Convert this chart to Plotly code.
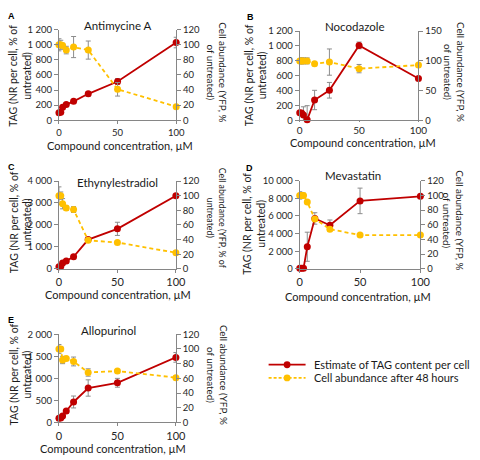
import plotly.graph_objects as go

conc = [0, 1.5625, 3.125, 6.25, 12.5, 25, 50, 100]

panels = ["Antimycine A", "Nocodazole", "Ethynylestradiol", "Mevastatin", "Allopurinol"]
letters = ["A", "B", "C", "D", "E"]

# TAG estimate (% of untreated)
tag_A = [100, 105, 172, 207, 250, 350, 513, 1030]
tag_B = [105, 100, 74, 9, 275, 406, 1008, 563]
tag_C = [100, 105, 267, 356, 548, 1333, 1822, 3333]
tag_D = [60, 60, 60, 2509, 5720, 4945, 7712, 8229]
tag_E = [96, 103, 148, 258, 465, 782, 900, 1476]

tag_err_A = [15, 10, 25, 25, 20, 30, 40, 70]
tag_err_B = [20, 20, 110, 190, 130, 105, 45, 20]
tag_err_C = [40, 40, 60, 60, 60, 60, 300, 40]
tag_err_D = [50, 50, 50, 1650, 650, 600, 1450, 100]
tag_err_E = [20, 20, 30, 40, 135, 185, 100, 110]

# Cell abundance (% of untreated)
cell_A = [100, 100, 99, 93, 97, 93, 41, 18]
cell_B = [100, 100, 100, 100, 95, 98, 87, 93]
cell_C = [100, 100, 89, 83, 81, 39, 36, 22]
cell_D = [100, 100, 100, 91, 68, 54, 46, 46]
cell_E = [100, 100, 85, 87, 83, 68, 70, 61]

cell_err_A = [8, 6, 3, 5, 14, 12, 9, 2]
cell_err_B = [5, 5, 5, 5, 3, 22, 7, 2]
cell_err_C = [12, 5, 7, 3, 4, 2, 2, 2]
cell_err_D = [5, 4, 3, 2, 2, 2, 1, 1]
cell_err_E = [6, 3, 5, 2, 6, 5, 2, 2]

left_max = [1200, 1200, 4000, 10000, 2000]
left_dtick = [200, 200, 1000, 2000, 500]
right_max = [120, 150, 120, 120, 120]
right_dtick = [20, 50, 20, 20, 20]

tags = [tag_A, tag_B, tag_C, tag_D, tag_E]
tag_errs = [tag_err_A, tag_err_B, tag_err_C, tag_err_D, tag_err_E]
cells = [cell_A, cell_B, cell_C, cell_D, cell_E]
cell_errs = [cell_err_A, cell_err_B, cell_err_C, cell_err_D, cell_err_E]

legend_names = ["Estimate of TAG content per cell", "Cell abundance after 48 hours"]
xtitle = "Compound concentration, µM"
ltitle = "TAG (NR per cell, % of<br>untreated)"
rtitle = "Cell abundance (YFP, %<br>of untreated)"
rtitle_c = "Cell abundance (YFP, % of<br>untreated)"

W, H = 480, 460
RED = "#C00000"
YEL = "#FFC000"
AX = "#868686"
ERR = "#8C8C8C"
FONT = "Lato"
TXT = "#1a1a1a"

# pixel boxes: (x_left, x_right, y_top, y_bottom)
boxes = [
    (57.5, 178.0, 24.3, 117.0),
    (305.0, 427.0, 25.7, 117.3),
    (57.5, 177.7, 179.3, 269.3),
    (305.0, 429.0, 179.0, 269.3),
    (57.5, 177.7, 336.3, 426.7),
]
x_ticklens = [3, 1, 3, 3, 3]
x_tickfont = [9.5, 10, 11, 11, 11]

def px(x):
    return x / W

def py(y):
    return 1 - y / H

fig = go.Figure()
layout = dict(
    width=W, height=H, margin=dict(l=0, r=0, t=0, b=0),
    paper_bgcolor="white", plot_bgcolor="white",
    separators=". ",
    font=dict(family=FONT, color="#262626"),
    showlegend=False,
)
annotations = []
shapes = []

for i in range(5):
    xl, xr, yt, yb = boxes[i]
    xa = "xaxis" if i == 0 else f"xaxis{i+1}"
    xref = "x" if i == 0 else f"x{i+1}"
    ly = 2 * i + 1
    ry = 2 * i + 2
    lya = "yaxis" if ly == 1 else f"yaxis{ly}"
    lyref = "y" if ly == 1 else f"y{ly}"
    rya = f"yaxis{ry}"
    ryref = f"y{ry}"
    common = dict(showline=True, linecolor=AX, linewidth=1, ticks="outside",
                  tickcolor=AX, showgrid=False, zeroline=False)
    yfont = dict(size=9.5, family=FONT, color="#262626")
    layout[xa] = dict(domain=[px(xl), px(xr)], anchor=lyref, range=[0, 100],
                      tickvals=[0, 50, 100], ticklen=x_ticklens[i],
                      tickfont=dict(size=x_tickfont[i], family=FONT, color="#262626"), **common)
    layout[lya] = dict(domain=[py(yb), py(yt)], anchor=xref, range=[0, left_max[i]],
                       dtick=left_dtick[i], tick0=0, tickformat=",d", ticklen=4,
                       tickfont=yfont, **common)
    layout[rya] = dict(domain=[py(yb), py(yt)], anchor=xref, overlaying=lyref,
                       side="right", range=[0, right_max[i]], dtick=right_dtick[i],
                       tick0=0, ticklen=4, tickfont=yfont, **common)

    tag_minus = [min(e, v) for e, v in zip(tag_errs[i], tags[i])]
    fig.add_trace(go.Scatter(
        x=conc, y=tags[i], xaxis=xref, yaxis=lyref, mode="lines+markers",
        line=dict(color=RED, width=1.8), marker=dict(color=RED, size=7),
        error_y=dict(type="data", array=tag_errs[i], arrayminus=tag_minus,
                     color=ERR, thickness=1, width=2.5),
        name=legend_names[0], cliponaxis=False))
    fig.add_trace(go.Scatter(
        x=conc, y=cells[i], xaxis=xref, yaxis=ryref, mode="lines+markers",
        line=dict(color=YEL, width=1.8, dash="4px,3px"), marker=dict(color=YEL, size=7),
        error_y=dict(type="data", array=cell_errs[i], color=ERR, thickness=1, width=2.5),
        name=legend_names[1], cliponaxis=False))

title_pos = [(118, 20), (362, 21), (118, 181), (360, 174), (108, 332)]
xt_pos = [(120, 143), (370, 140), (118, 296), (365, 298), (113, 453)]
lt_pos = [(18, 72), (260, 71), (18, 222), (258, 223), (18, 378)]
rt_pos = [(220, 68), (464, 68), (220, 217), (463, 220), (220, 378)]
letter_pos = [(3, 3), (249, 4), (3, 158), (248, 159), (3, 315)]

def ann(x, y, text, size, angle=0, xanchor="center", yanchor="middle", family=FONT, color=TXT):
    return dict(x=px(x), y=py(y), xref="paper", yref="paper", text=text,
                showarrow=False, textangle=angle, xanchor=xanchor, yanchor=yanchor,
                font=dict(size=size, family=family, color=color))

for i in range(5):
    annotations.append(ann(*title_pos[i], panels[i], 11.5))
    annotations.append(ann(*xt_pos[i], xtitle, 11))
    annotations.append(ann(*lt_pos[i], ltitle, 10.5, angle=-90))
    if i == 2:
        annotations.append(ann(*rt_pos[i], rtitle_c, 8.8, angle=90))
    else:
        annotations.append(ann(*rt_pos[i], rtitle, 9.8, angle=90))
    annotations.append(ann(*letter_pos[i], "<b>" + letters[i] + "</b>", 9,
                           xanchor="left", yanchor="top", family="Liberation Sans", color="#000"))

# manual legend
leg_rows = [(367.5, RED, "solid"), (381, YEL, "3px,2px")]
for k, (ly_, col, dash) in enumerate(leg_rows):
    shapes.append(dict(type="line", xref="paper", yref="paper",
                       x0=px(273), x1=px(311), y0=py(ly_), y1=py(ly_),
                       line=dict(color=col, width=1.8, dash=dash)))
    shapes.append(dict(type="circle", xref="paper", yref="paper",
                       x0=px(288.5), x1=px(295.5), y0=py(ly_ + 3.5), y1=py(ly_ - 3.5),
                       fillcolor=col, line=dict(color=col, width=0)))
    annotations.append(ann(318, ly_, legend_names[k], 11, xanchor="left"))

layout["annotations"] = annotations
layout["shapes"] = shapes
fig.update_layout(**layout)
fig.write_html("out.html", config={"displayModeBar": False},
               post_script="document.body.style.margin='0';")
